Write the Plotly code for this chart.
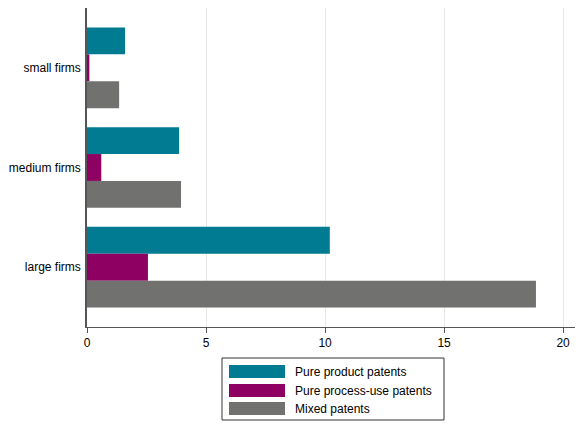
import plotly.graph_objects as go

categories = ["small firms", "medium firms", "large firms"]
product = [1.6, 3.87, 10.2]
process = [0.1, 0.6, 2.56]
mixed = [1.35, 3.95, 18.86]
series_names = ["Pure product patents", "Pure process-use patents", "Mixed patents"]
colors = ["#007B92", "#8F0063", "#717170"]

W, H = 576, 423
L, R, T, B = 87, 1, 8, 96
pw, ph = W - L - R, H - T - B


def px(x):
    return (x - L) / pw


def py(y):
    return (H - B - y) / ph


fig = go.Figure()
for name, vals, col in zip(series_names, [product, process, mixed], colors):
    fig.add_trace(go.Bar(
        y=categories, x=vals, name=name, orientation="h",
        marker=dict(color=col, line=dict(width=0)),
        showlegend=False,
    ))

shapes = [dict(type="rect", xref="paper", yref="paper",
               x0=px(222), x1=px(444), y0=py(358), y1=py(420),
               line=dict(color="#333", width=1), fillcolor="white")]
annotations = []
rows = [(365, 378), (384, 397), (402, 415)]
for (t, b), name, col in zip(rows, series_names, colors):
    shapes.append(dict(type="rect", xref="paper", yref="paper",
                       x0=px(229), x1=px(285), y0=py(t), y1=py(b),
                       line=dict(width=0), fillcolor=col))
    annotations.append(dict(xref="paper", yref="paper", x=px(293), y=py((t + b) / 2),
                            text=name, showarrow=False, xanchor="left", yanchor="middle",
                            font=dict(size=12, color="black")))

fig.update_layout(
    width=W, height=H,
    barmode="group", bargap=0.19, bargroupgap=0,
    plot_bgcolor="white", paper_bgcolor="white",
    margin=dict(l=L, r=R, t=T, b=B),
    font=dict(family="Liberation Sans, Arial, sans-serif", size=12, color="black"),
    xaxis=dict(
        range=[0, 20.5], tickvals=[0, 5, 10, 15, 20],
        showgrid=True, gridcolor="#e8e8e8", gridwidth=1,
        showline=True, linecolor="#555", linewidth=1,
        ticks="outside", ticklen=5, tickcolor="#555",
        zeroline=False, automargin=False,
    ),
    yaxis=dict(
        categoryorder="array", categoryarray=categories,
        range=[2.6, -0.6],
        showgrid=False, showline=True, linecolor="#555", linewidth=1.5,
        ticks="", ticklabelstandoff=2, automargin=False,
    ),
    shapes=shapes,
    annotations=annotations,
    showlegend=False,
)

fig.write_html("out.html", config={"displayModeBar": False},
               post_script="document.body.style.margin='0';document.body.style.overflow='hidden';")
